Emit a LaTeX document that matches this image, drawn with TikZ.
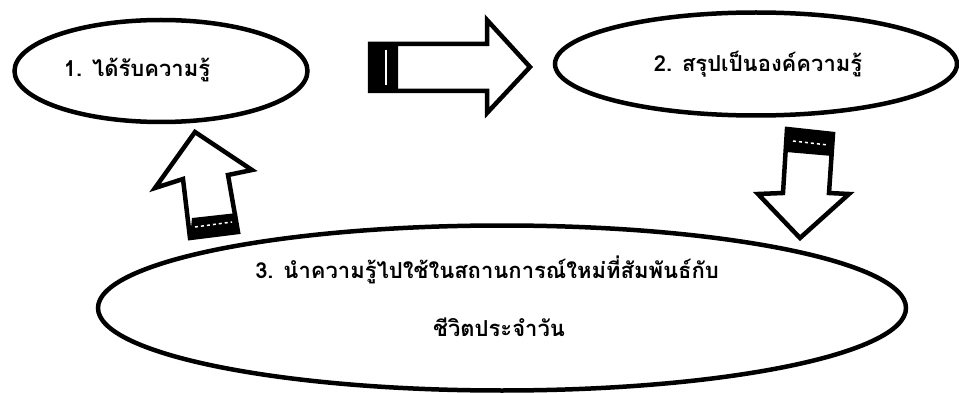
\documentclass[tikz,border=0pt]{standalone}
\usepackage{fontspec}
\usepackage{xcolor}
\usepackage{tikz}
\usepackage{tkz-euclide}
\usetikzlibrary{shapes.geometric}
\newfontfamily\thaifont[Script=Thai]{Loma}
\tikzset{stage/.style={draw,ellipse,line width=4.5pt,inner sep=0pt},stage label/.style={font=\thaifont\bfseries\fontsize{22}{28}\selectfont},block arrow/.style={draw,line width=4.5pt,line join=miter,fill=white},tail band/.style={fill=black},tail line/.style={white,line width=1.5pt}}

\begin{document}
\begin{tikzpicture}[x=1pt,y=-1pt]
			\useasboundingbox (0,0) rectangle (959,393);
			\node[stage,minimum width=293pt,minimum height=102pt] (G) at (161,71) {};
			\node[stage,minimum width=402pt,minimum height=103pt] (S) at (756,64) {};
			\node[stage,minimum width=808pt,minimum height=165pt] (U) at (502,308) {};
			\node[stage label] (g) at (137,70) {1. ได้รับความรู้};
			\node[stage label] (s) at (758,64) {2. สรุปเป็นองค์ความรู้};
			\node[stage label] (u) at (487,270) {3. นำความรู้ไปใช้ในสถานการณ์ใหม่ที่สัมพันธ์กับ};
			\node[stage label] (v) at (499,327) {ชีวิตประจำวัน};
			% arrow 1 -> 2
			\tkzDefPoint(370,44){A}
			\tkzDefPoint(487,44){B}
			\tkzDefPoint(487,20){C}
			\tkzDefPoint(530,67){D}
			\tkzDefPoint(487,113){E}
			\tkzDefPoint(487,91){F}
			\tkzDefPoint(370,91){H}
			\tkzDefPoint(398,44){K}
			\tkzDefPoint(398,91){L}
			\tkzDrawPolygon[block arrow](A,B,C,D,E,F,H)
			\tkzFillPolygon[tail band](A,K,L,H)
			\draw[tail line] (386,50) -- (386,85);
			% arrow 2 -> 3
			\tkzDefPoint(787,129){A}
			\tkzDefPoint(833,134){B}
			\tkzDefPoint(829,193){C}
			\tkzDefPoint(849,194){D}
			\tkzDefPoint(800,238){E}
			\tkzDefPoint(758,194){F}
			\tkzDefPoint(783,193){H}
			\tkzDefPoint(832,156){K}
			\tkzDefPoint(786,152){L}
			\tkzDrawPolygon[block arrow](A,B,C,D,E,F,H)
			\tkzFillPolygon[tail band](A,B,K,L)
			\draw[tail line,dashed] (793,141) -- (828,145);
			% arrow 3 -> 1
			\tkzDefPoint(190,238){A}
			\tkzDefPoint(238,232){B}
			\tkzDefPoint(228,175){C}
			\tkzDefPoint(252,170){D}
			\tkzDefPoint(195,132){E}
			\tkzDefPoint(155,188){F}
			\tkzDefPoint(183,179){H}
			\tkzDefPoint(237,213){K}
			\tkzDefPoint(192,218){L}
			\tkzDrawPolygon[block arrow](A,B,C,D,E,F,H)
			\tkzFillPolygon[tail band](A,B,K,L)
			\draw[tail line,dashed] (195,227) -- (232,222);
		\end{tikzpicture}
\end{document}
